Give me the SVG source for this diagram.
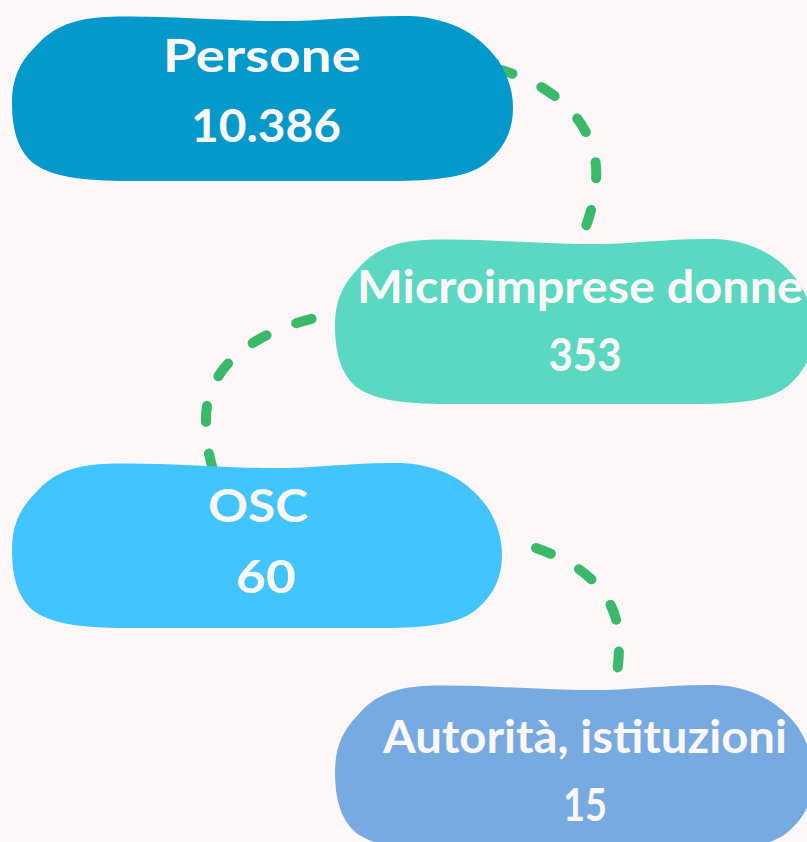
<svg xmlns="http://www.w3.org/2000/svg" width="807" height="842" viewBox="0 0 807 842">
  <defs>
    <style>
      .lbl { font-family: Lato, "Open Sans", "Liberation Sans", sans-serif; font-weight: 700; font-size: 46px; fill: #FDF7F7; text-anchor: middle; }
      .conn { fill: none; stroke: #3BB96A; stroke-width: 10; stroke-linecap: round; stroke-dasharray: 16 32; }
    </style>
    <path id="blob" d="M12,103 C12,78 20,62 35,47 C50,30 68,19 105,17 C155,15 210,20 267,21 C320,22 360,15 410,16 C455,18 482,38 498,60 C508,76 513,90 513,108 C513,132 503,150 485,164 C467,177 440,180 400,181 L130,181 C80,181 50,176 33,163 C18,150 12,130 12,103 Z"/>
  </defs>
  <rect width="807" height="842" fill="#FDF7F7"/>
  <g id="connectors">
    <path class="conn" d="M497,69 C560,85 600,130 596,180 C594,205 588,222 580,242"/>
    <path class="conn" d="M359,312 C290,315 205,350 206,420 C206,440 208,452 213,470"/>
    <path class="conn" d="M536,548 C585,565 620,595 619,645 C619,662 617,675 614,690"/>
  </g>
  <g id="node-persone">
    <use href="#blob" fill="#039ACB"/>
    <text class="lbl" x="262" y="72" textLength="198" lengthAdjust="spacingAndGlyphs">Persone</text>
    <text class="lbl" x="266" y="142" textLength="150" lengthAdjust="spacingAndGlyphs">10.386</text>
  </g>
  <g id="node-microimprese">
    <use href="#blob" fill="#5AD8C1" transform="translate(335,239) scale(0.955,1) translate(-12,-16)"/>
    <text class="lbl" x="580" y="303" textLength="446" lengthAdjust="spacingAndGlyphs">Microimprese donne</text>
    <text class="lbl" x="585" y="371" textLength="73" lengthAdjust="spacingAndGlyphs">353</text>
  </g>
  <g id="node-osc">
    <use href="#blob" fill="#42C4FF" transform="translate(12,463) scale(0.978,1) translate(-12,-16)"/>
    <text class="lbl" x="258" y="522" textLength="100" lengthAdjust="spacingAndGlyphs">OSC</text>
    <text class="lbl" x="266" y="593" textLength="60" lengthAdjust="spacingAndGlyphs">60</text>
  </g>
  <g id="node-autorita">
    <use href="#blob" fill="#78AAE2" transform="translate(335,685) scale(0.955,1) translate(-12,-16)"/>
    <text class="lbl" x="585" y="753" textLength="404" lengthAdjust="spacingAndGlyphs">Autorità, istituzioni</text>
    <text class="lbl" x="585" y="821" textLength="44" lengthAdjust="spacingAndGlyphs">15</text>
  </g>
</svg>
